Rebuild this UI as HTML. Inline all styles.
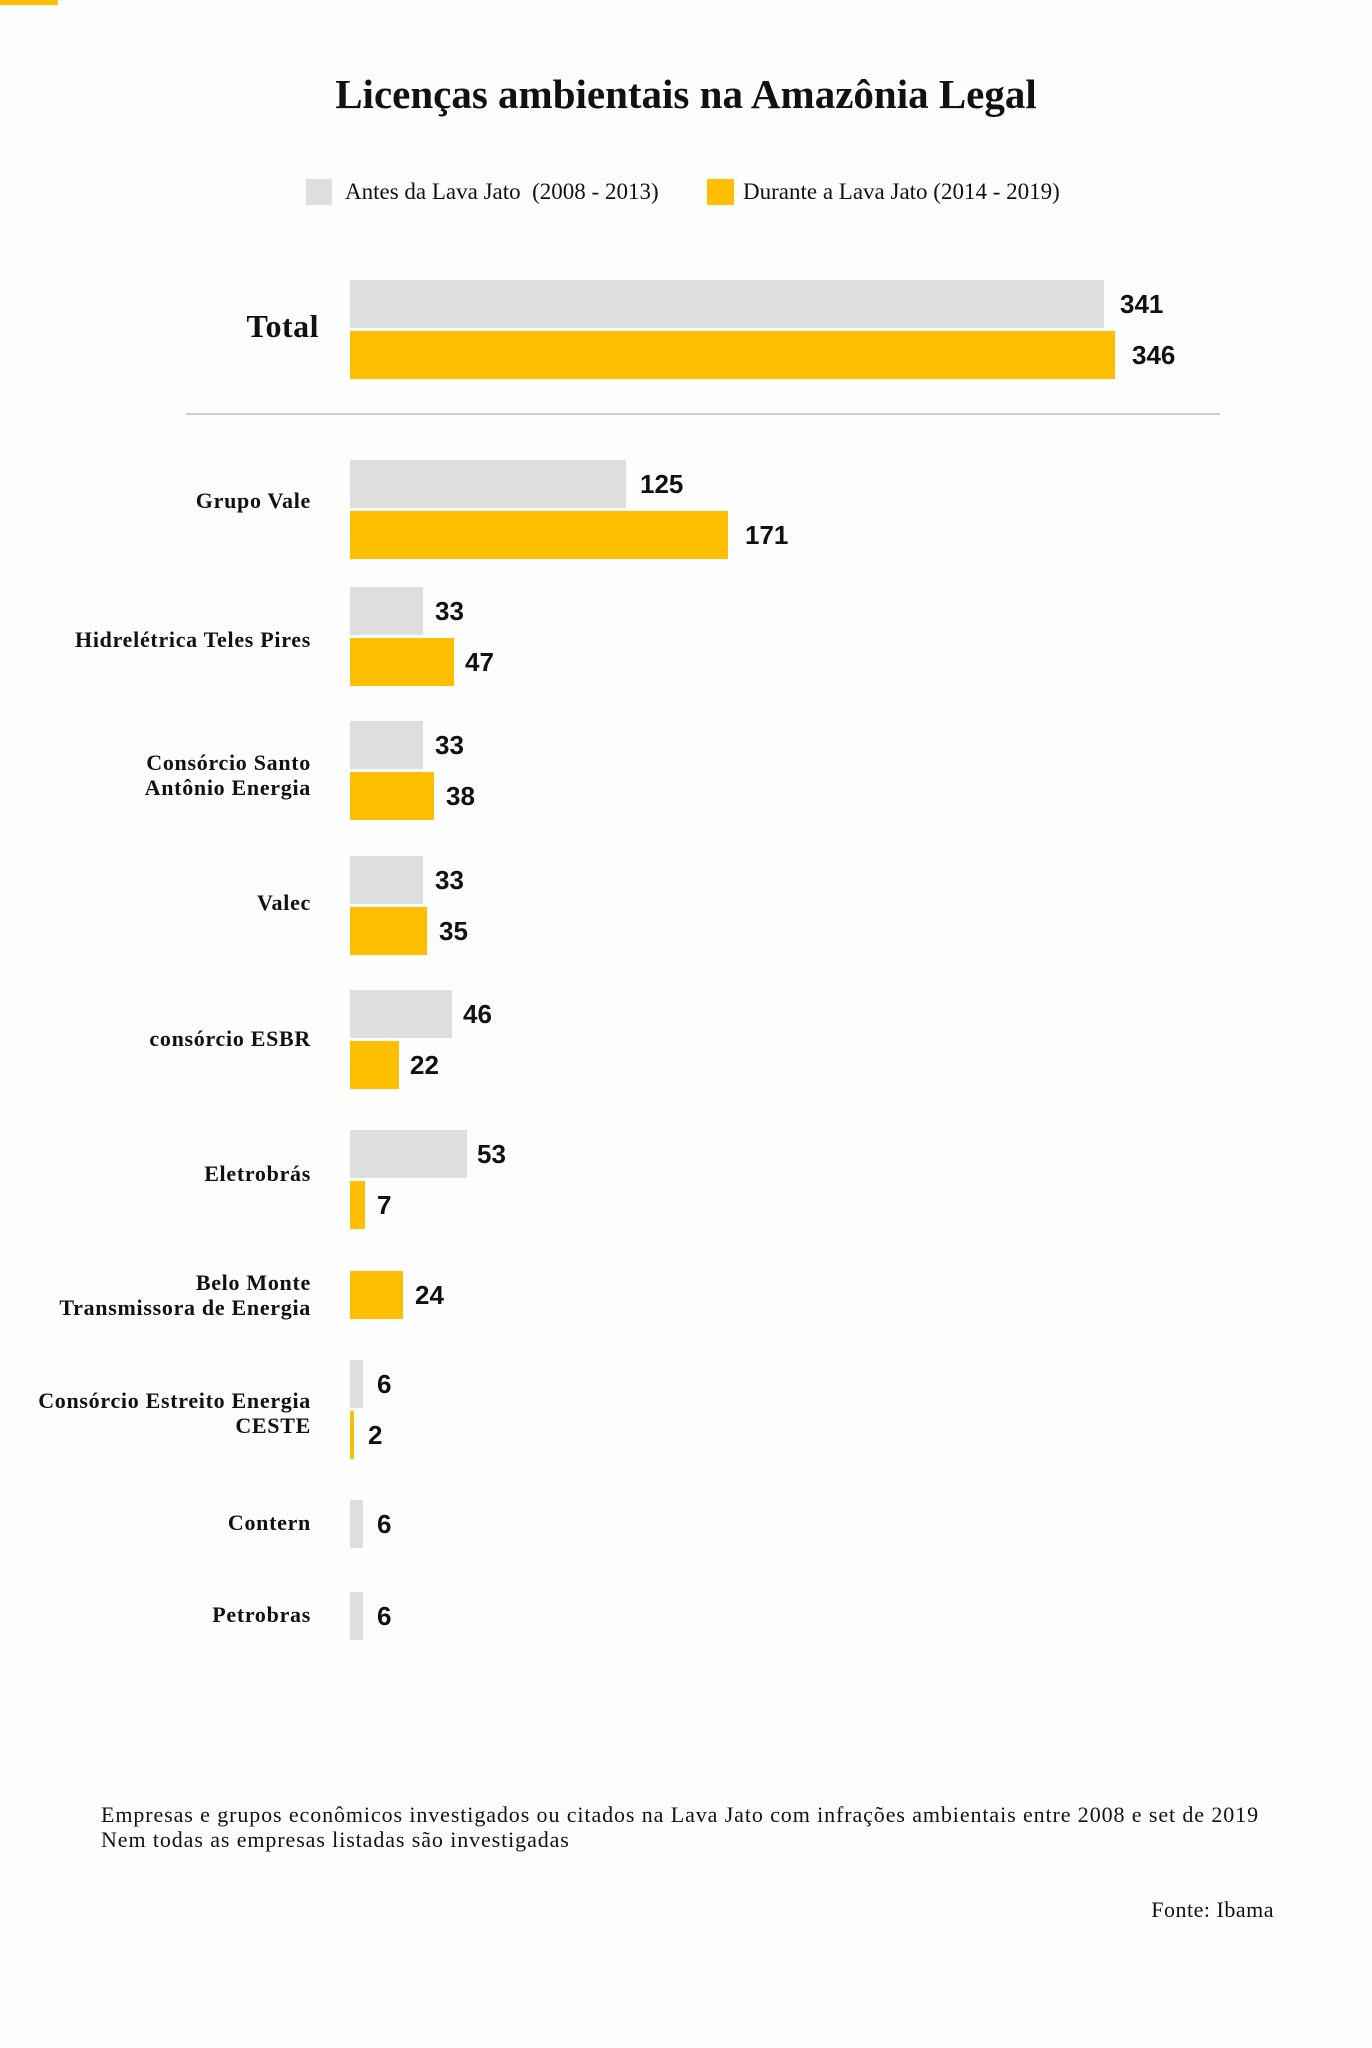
<!DOCTYPE html>
<html><head><meta charset="utf-8"><style>
body{margin:0;width:1372px;height:2048px;background:#fdfdfd;position:relative;overflow:hidden;font-family:"Liberation Serif",serif;color:#111}
div{position:absolute}
.g{background:#dedede;left:350px;height:48px}
.o{background:#ffbf00;left:350px;height:48px}
.v{font-family:"Liberation Sans",sans-serif;font-weight:bold;font-size:26px;line-height:48px;height:48px}
.l{right:1061px;text-align:right;font-weight:bold;font-size:22px;letter-spacing:0.7px;line-height:25px;white-space:nowrap}
</style></head><body>
<div style="left:0;top:0;width:58px;height:5px;background:#ffbf00"></div>
<div style="left:0;width:1372px;top:70px;text-align:center;font-weight:bold;font-size:41px">Licenças ambientais na Amazônia Legal</div>
<div style="left:306px;top:179px;width:26px;height:26px;background:#dedede"></div>
<div style="left:345px;top:179px;font-size:23px;line-height:26px">Antes da Lava Jato&nbsp; (2008 - 2013)</div>
<div style="left:707px;top:179px;width:27px;height:26px;background:#ffbf00"></div>
<div style="left:743px;top:179px;font-size:23px;line-height:26px">Durante a Lava Jato (2014 - 2019)</div>

<div class="l" style="top:308px;font-size:32px;line-height:36px;right:1053px;letter-spacing:0.5px">Total</div>
<div class="g" style="top:280px;width:754px"></div><div class="v" style="top:280px;left:1120px">341</div>
<div class="o" style="top:331px;width:765px"></div><div class="v" style="top:331px;left:1132px">346</div>
<div style="left:186px;top:413px;width:1034px;height:2px;background:#ccc"></div>

<div class="l" style="top:488px">Grupo Vale</div>
<div class="g" style="top:460px;width:276px"></div><div class="v" style="top:460px;left:640px">125</div>
<div class="o" style="top:511px;width:378px"></div><div class="v" style="top:511px;left:745px">171</div>

<div class="l" style="top:627px">Hidrelétrica Teles Pires</div>
<div class="g" style="top:587px;width:73px"></div><div class="v" style="top:587px;left:435px">33</div>
<div class="o" style="top:638px;width:104px"></div><div class="v" style="top:638px;left:465px">47</div>

<div class="l" style="top:750px">Consórcio Santo<br>Antônio Energia</div>
<div class="g" style="top:721px;width:73px"></div><div class="v" style="top:721px;left:435px">33</div>
<div class="o" style="top:772px;width:84px"></div><div class="v" style="top:772px;left:446px">38</div>

<div class="l" style="top:890px">Valec</div>
<div class="g" style="top:856px;width:73px"></div><div class="v" style="top:856px;left:435px">33</div>
<div class="o" style="top:907px;width:77px"></div><div class="v" style="top:907px;left:439px">35</div>

<div class="l" style="top:1026px">consórcio ESBR</div>
<div class="g" style="top:990px;width:102px"></div><div class="v" style="top:990px;left:463px">46</div>
<div class="o" style="top:1041px;width:49px"></div><div class="v" style="top:1041px;left:410px">22</div>

<div class="l" style="top:1161px">Eletrobrás</div>
<div class="g" style="top:1130px;width:117px"></div><div class="v" style="top:1130px;left:477px">53</div>
<div class="o" style="top:1181px;width:15px"></div><div class="v" style="top:1181px;left:377px">7</div>

<div class="l" style="top:1270px">Belo Monte<br>Transmissora de Energia</div>
<div class="o" style="top:1271px;width:53px"></div><div class="v" style="top:1271px;left:415px">24</div>

<div class="l" style="top:1388px">Consórcio Estreito Energia<br>CESTE</div>
<div class="g" style="top:1360px;width:13px"></div><div class="v" style="top:1360px;left:377px">6</div>
<div class="o" style="top:1411px;width:4px"></div><div class="v" style="top:1411px;left:368px">2</div>

<div class="l" style="top:1510px">Contern</div>
<div class="g" style="top:1500px;width:13px"></div><div class="v" style="top:1500px;left:377px">6</div>

<div class="l" style="top:1602px">Petrobras</div>
<div class="g" style="top:1592px;width:13px"></div><div class="v" style="top:1592px;left:377px">6</div>

<div style="left:101px;top:1802px;font-size:22px;letter-spacing:0.9px;line-height:25px;white-space:nowrap">Empresas e grupos econômicos investigados ou citados na Lava Jato com infrações ambientais entre 2008 e set de 2019<br>Nem todas as empresas listadas são investigadas</div>
<div style="right:98px;top:1897px;font-size:22px;letter-spacing:0.5px;line-height:25px">Fonte: Ibama</div>
</body></html>
